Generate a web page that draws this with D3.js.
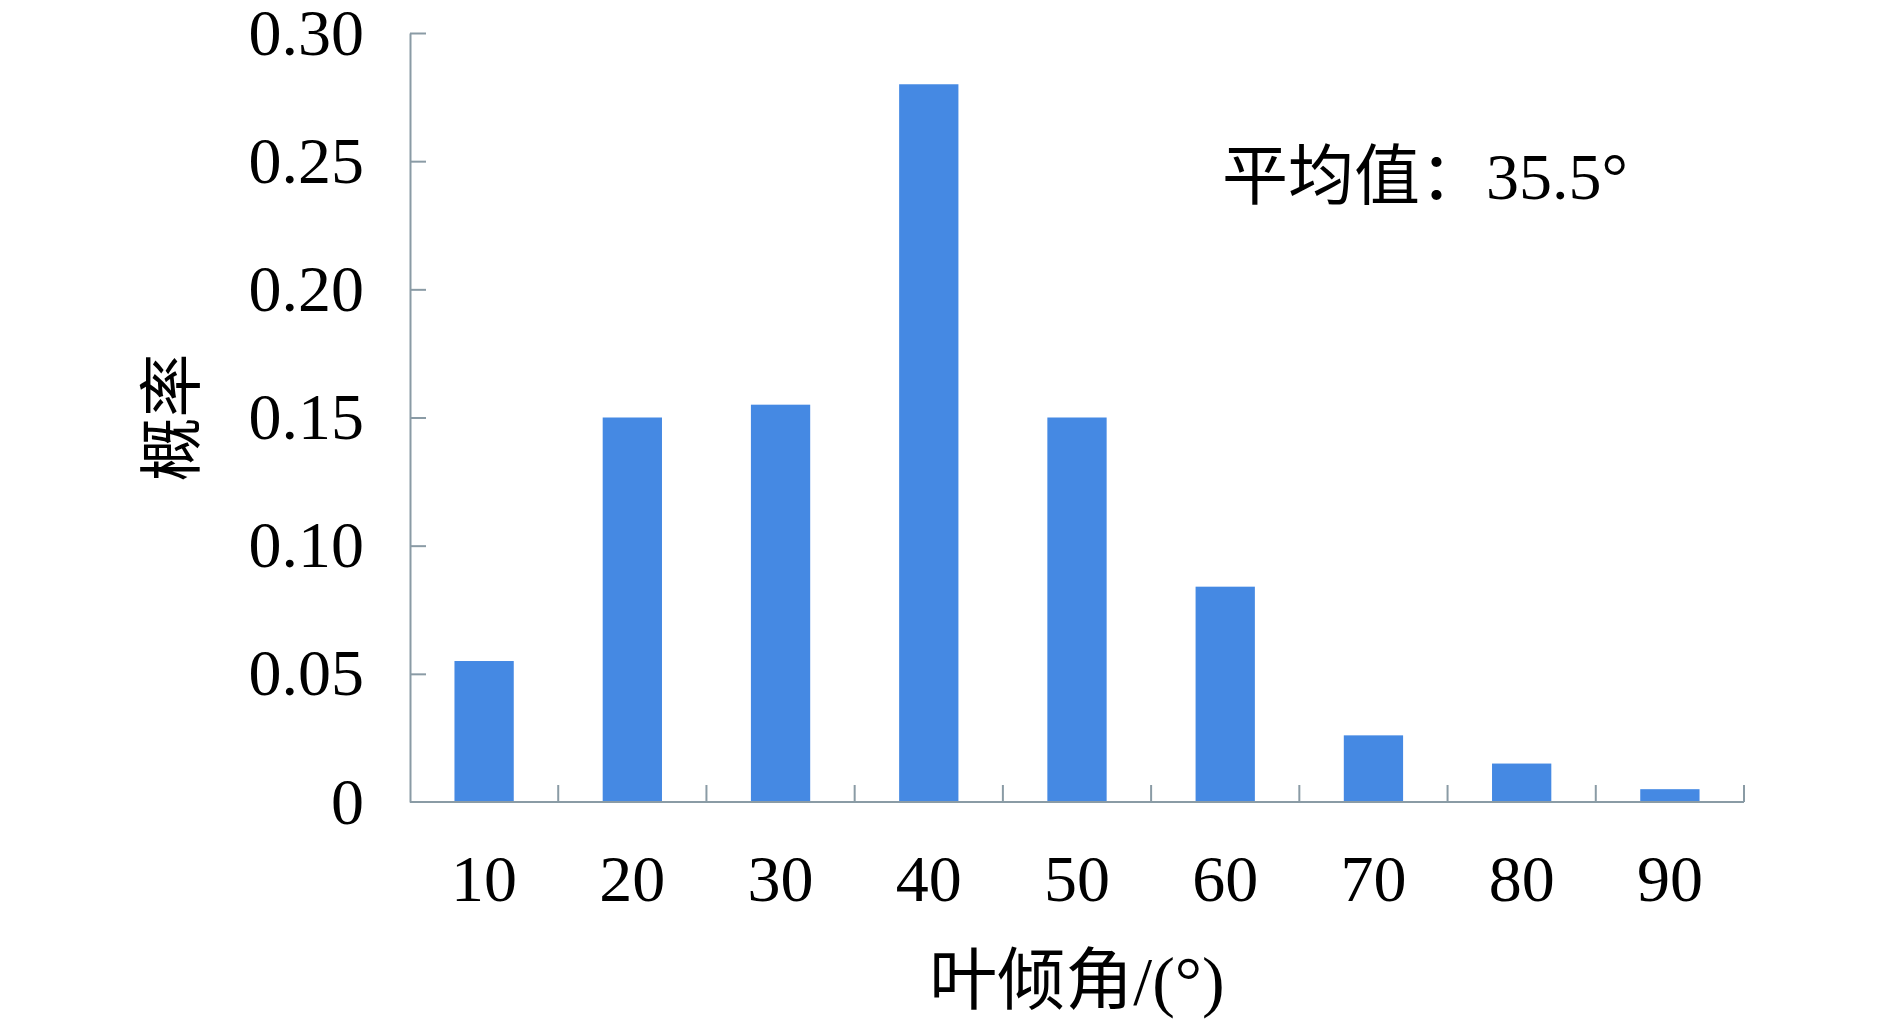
<!DOCTYPE html>
<html>
<head>
<meta charset="utf-8">
<script src="https://cdn.jsdelivr.net/npm/d3@7"></script>
<style>
  body { margin: 0; background: #fff; }
  svg text { font-family: "Liberation Serif", "Times New Roman", "Noto Sans CJK SC", serif; fill: #000; }
</style>
</head>
<body>
<svg id="chart" width="1890" height="1023"></svg>
<script>
// leaf inclination angle classes and their probability
var angles = ['10', '20', '30', '40', '50', '60', '70', '80', '90']
var probs = [0.055, 0.15, 0.155, 0.28, 0.15, 0.084, 0.026, 0.015, 0.005]
var yTicks = [0, 0.05, 0.10, 0.15, 0.20, 0.25, 0.30]
var yTickLabels = ['0', '0.05', '0.10', '0.15', '0.20', '0.25', '0.30']
var xTitle = '叶倾角/(°)'
var yTitle = '概率'
var note = '平均值：35.5°'

var svg = d3.select('#chart')
var plotLeft = 410, plotRight = 1744, plotTop = 33, plotBottom = 802
var axisColor = '#8a9ba5'

var x = d3.scaleBand().domain(angles).range([plotLeft, plotRight])
  .paddingInner(0.6).paddingOuter(0.3)
var y = d3.scaleLinear().domain([0, 0.3]).range([plotBottom, plotTop])

// bars
svg.append('g').selectAll('rect')
  .data(probs)
  .enter().append('rect')
  .attr('x', (d, i) => x(angles[i]))
  .attr('y', d => y(d))
  .attr('width', x.bandwidth())
  .attr('height', d => plotBottom - y(d))
  .attr('fill', '#4589e3')

// y axis, ticks point inward
var gy = svg.append('g').attr('transform', 'translate(' + plotLeft + ',0)')
  .call(d3.axisLeft(y).tickValues(yTicks).tickSizeOuter(0)
    .tickFormat((d, i) => yTickLabels[i]))
gy.select('.domain').attr('stroke', axisColor).attr('stroke-width', 2)
gy.selectAll('.tick line').attr('x2', d => d === 0 ? 0 : 16).attr('stroke', axisColor).attr('stroke-width', 2)
gy.selectAll('.tick text')
  .attr('x', -46).attr('dy', '0.32em')
  .style('font-size', '66px')

// x axis, labels at band centres
var gx = svg.append('g').attr('transform', 'translate(0,' + plotBottom + ')')
  .call(d3.axisBottom(x).tickSize(0).tickSizeOuter(0))
gx.select('.domain').attr('stroke', axisColor).attr('stroke-width', 2)
  .attr('d', 'M' + plotLeft + ',0H' + plotRight)
gx.selectAll('.tick text').attr('y', 99).attr('dy', 0)
  .style('font-size', '66px')

// boundary ticks between categories
gx.selectAll('.sep')
  .data(d3.range(1, angles.length + 1))
  .enter().append('line')
  .attr('class', 'sep')
  .attr('x1', i => plotLeft + i * x.step())
  .attr('x2', i => plotLeft + i * x.step())
  .attr('y1', 0).attr('y2', -17)
  .attr('stroke', axisColor).attr('stroke-width', 2)

// titles
svg.append('text')
  .attr('x', (plotLeft + plotRight) / 2).attr('y', 1004)
  .attr('text-anchor', 'middle')
  .style('font-size', '68px')
  .text(xTitle)

svg.append('text')
  .attr('transform', 'translate(194,' + (plotTop + plotBottom) / 2 + ') rotate(-90)')
  .attr('text-anchor', 'middle')
  .style('font-size', '64px')
  .text(yTitle)

svg.append('text')
  .attr('x', 1222).attr('y', 199)
  .style('font-size', '66px')
  .text(note)
</script>
</body>
</html>
